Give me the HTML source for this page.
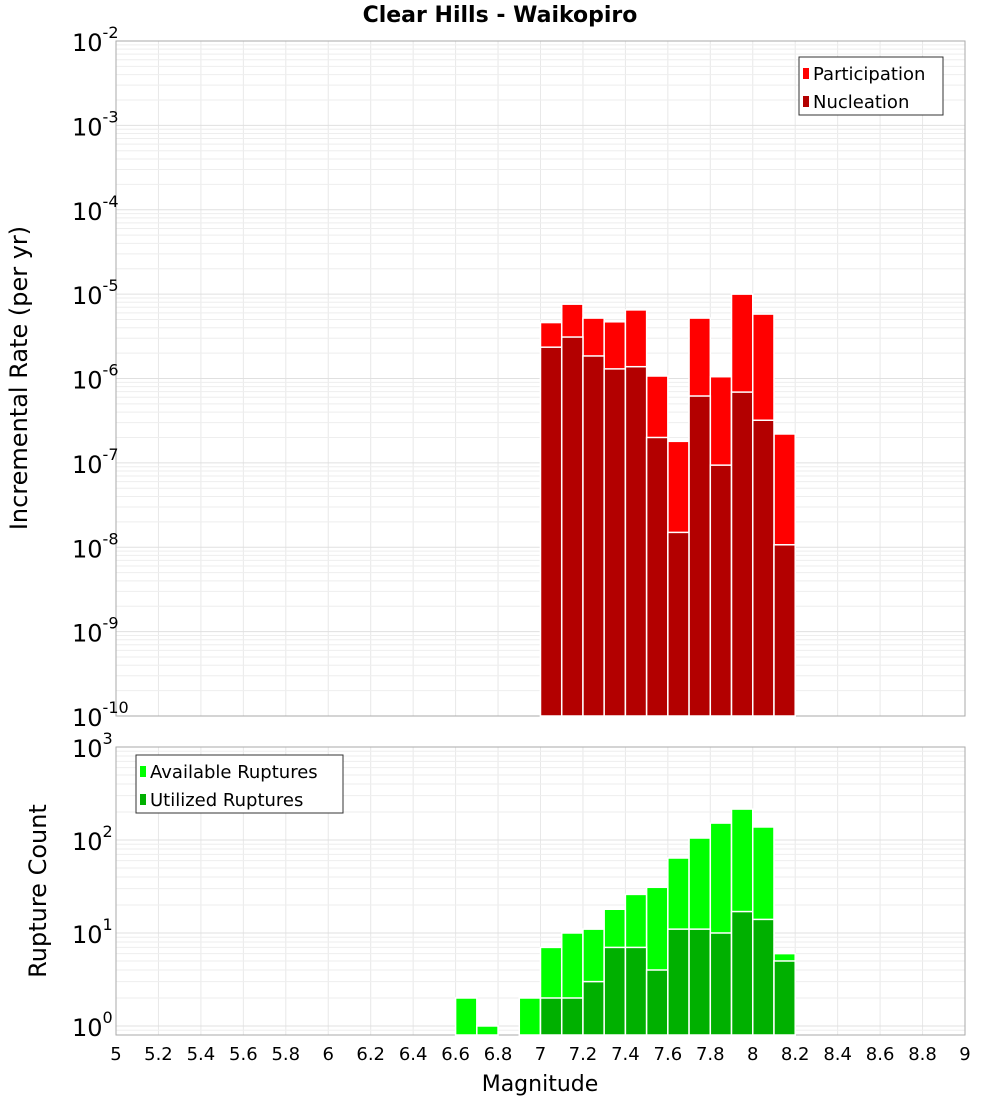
<!DOCTYPE html>
<html><head><meta charset="utf-8"><style>
body{margin:0;background:#fff;font-family:"Liberation Sans","DejaVu Sans",sans-serif}
</style></head><body>
<svg id="c" width="1000" height="1100" xmlns="http://www.w3.org/2000/svg" font-family="DejaVu Sans, Liberation Sans, sans-serif"></svg>
<script>
const mags=[6.65,6.75,6.95,7.05,7.15,7.25,7.35,7.45,7.55,7.65,7.75,7.85,7.95,8.05,8.15];
const rateMags=[7.05,7.15,7.25,7.35,7.45,7.55,7.65,7.75,7.85,7.95,8.05,8.15];
const participation=[4.6e-6,7.6e-6,5.2e-6,4.7e-6,6.5e-6,1.07e-6,1.8e-7,5.2e-6,1.05e-6,1.0e-5,5.8e-6,2.2e-7];
const nucleation=[2.35e-6,3.1e-6,1.85e-6,1.3e-6,1.38e-6,2.0e-7,1.5e-8,6.2e-7,9.4e-8,6.9e-7,3.2e-7,1.07e-8];
const available=[2,1,2,7,10,11,18,26,31,64,105,152,215,138,6];
const utilized=[0,0,0,2,2,3,7,7,4,11,11,10,17,14,5];
const xTicks=["5","5.2","5.4","5.6","5.8","6","6.2","6.4","6.6","6.8","7","7.2","7.4","7.6","7.8","8","8.2","8.4","8.6","8.8","9"];
const topExps=[-10,-9,-8,-7,-6,-5,-4,-3,-2];
const botExps=[0,1,2,3];

const svg=document.getElementById('c');const NS='http://www.w3.org/2000/svg';
function mk(t,a,p,txt){const e=document.createElementNS(NS,t);for(const k in a)e.setAttribute(k,a[k]);if(txt!==undefined)e.textContent=txt;(p||svg).appendChild(e);return e;}
const X0=116,X1=965;
const xs=m=>X0+(m-5)/4*(X1-X0);
const T={top:41,bot:716,lmin:-10,lmax:-2};
const B={top:747,bot:1035,lmin:Math.log10(0.8),lmax:3};
const ys=(P,v)=>P.bot-(Math.log10(v)-P.lmin)/(P.lmax-P.lmin)*(P.bot-P.top);

function panel(P,exps,name){
  const g=mk('g',{});  
  for(let i=0;i<xTicks.length;i++){const x=xs(+xTicks[i]);mk('line',{x1:x,x2:x,y1:P.top,y2:P.bot,stroke:'#e8e8e8','stroke-width':1},g);}
  for(let e=Math.floor(P.lmin);e<P.lmax;e++)for(let k=1;k<10;k++){const v=k*Math.pow(10,e);const lv=Math.log10(v);if(lv<P.lmin||lv>P.lmax)continue;const y=ys(P,v);mk('line',{x1:X0,x2:X1,y1:y,y2:y,stroke:k==1?'#e0e0e0':'#eeeeee','stroke-width':1},g);}
  const f=mk('rect',{x:X0,y:P.top,width:X1-X0,height:P.bot-P.top,fill:'none',stroke:'#aaa'});
  
  exps.forEach(e=>{const y=ys(P,Math.pow(10,e));const t=mk('text',{x:72,y:y+10,'font-size':24,fill:'#000'},null,'10');
    
    mk('tspan',{dy:-13,'font-size':16},t,String(e));});
}
panel(T,topExps,'rate-panel');panel(B,botExps,'count-panel');

const bw=(X1-X0)/40;
function bars(P,ms,vals,col,name){const g=mk('g',{});
  ms.forEach((m,i)=>{if(!(vals[i]>0))return;const y=ys(P,vals[i]);const x=xs(m)-bw/2;
    const r=mk('rect',{x:x,y:y,width:bw,height:P.bot-y,fill:col,stroke:'#fff','stroke-width':1.5},g);
    });}
bars(T,rateMags,participation,'#ff0000','participation');
bars(T,rateMags,nucleation,'#b30000','nucleation');
bars(B,mags,available,'#00ff00','available');
bars(B,mags,utilized,'#00b000','utilized');

xTicks.forEach(t=>{const e=mk('text',{x:xs(+t),y:1060,'font-size':18,'text-anchor':'middle'},null,t);
  });

function legend(x,y,w,items,name){const g=mk('g',{});
  mk('rect',{x:x,y:y,width:w,height:58,fill:'#fff',stroke:'#333'},g);
  items.forEach((it,i)=>{mk('rect',{x:x+4,y:y+11+i*28,width:6,height:11,fill:it[1]},g);
    const t=mk('text',{x:x+14,y:y+23+i*28,'font-size':18},g,it[0]);});}
legend(799,57,144,[['Participation','#ff0000'],['Nucleation','#b30000']],'rate-legend');
legend(136,755,207,[['Available Ruptures','#00ff00'],['Utilized Ruptures','#00b000']],'count-legend');

let t=mk('text',{x:500,y:22,'font-size':22,'font-weight':'bold','text-anchor':'middle'},null,'Clear Hills - Waikopiro');

t=mk('text',{x:0,y:0,'font-size':24,'text-anchor':'middle',transform:'translate(27,378) rotate(-90)'},null,'Incremental Rate (per yr)');

t=mk('text',{x:0,y:0,'font-size':24,'text-anchor':'middle',transform:'translate(46,891) rotate(-90)'},null,'Rupture Count');

t=mk('text',{x:540,y:1091,'font-size':22,'text-anchor':'middle'},null,'Magnitude');

</script>
</body></html>
